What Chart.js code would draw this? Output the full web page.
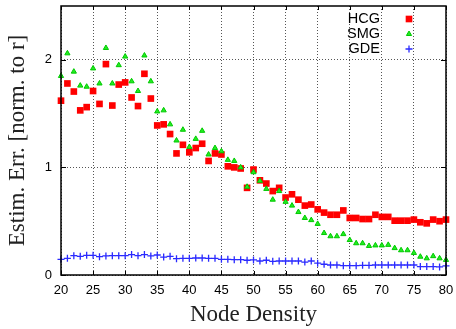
<!DOCTYPE html>
<html>
<head>
<meta charset="utf-8">
<script src="https://cdn.jsdelivr.net/npm/chart.js@4"></script>
<style>
  html, body { margin: 0; padding: 0; background: #fff; }
  #wrap { width: 456px; height: 329px; }
</style>
</head>
<body>
<div id="wrap"><canvas id="errChart"></canvas></div>
<script>
// Node density on the x axis, one point per integer value
const nodeDensity = [20, 21, 22, 23, 24, 25, 26, 27, 28, 29, 30, 31, 32, 33, 34, 35, 36, 37, 38, 39, 40,
  41, 42, 43, 44, 45, 46, 47, 48, 49, 50, 51, 52, 53, 54, 55, 56, 57, 58, 59, 60,
  61, 62, 63, 64, 65, 66, 67, 68, 69, 70, 71, 72, 73, 74, 75, 76, 77, 78, 79, 80];

// Estimation error (normalised to r)
const hcg = [1.62, 1.78, 1.705, 1.53, 1.56, 1.71, 1.59, 1.96, 1.575, 1.77, 1.79, 1.65, 1.57, 1.87, 1.64, 1.39, 1.40, 1.31, 1.13, 1.21, 1.14,
  1.18, 1.22, 1.06, 1.13, 1.12, 1.01, 1.00, 0.99, 0.81, 0.98, 0.88, 0.85, 0.78, 0.81, 0.72, 0.75, 0.70, 0.645, 0.655, 0.61,
  0.58, 0.56, 0.56, 0.60, 0.53, 0.53, 0.52, 0.52, 0.56, 0.54, 0.54, 0.505, 0.505, 0.505, 0.515, 0.49, 0.48, 0.515, 0.50, 0.515];
const smg = [1.85, 2.06, 1.89, 1.76, 1.75, 1.92, 1.78, 2.11, 1.78, 1.95, 2.03, 1.80, 1.71, 2.04, 1.80, 1.52, 1.53, 1.40, 1.25, 1.35, 1.19,
  1.265, 1.34, 1.12, 1.18, 1.15, 1.07, 1.06, 1.00, 0.82, 0.955, 0.875, 0.80, 0.70, 0.78, 0.68, 0.645, 0.585, 0.53, 0.51, 0.475,
  0.39, 0.36, 0.36, 0.38, 0.325, 0.295, 0.295, 0.27, 0.275, 0.275, 0.28, 0.25, 0.23, 0.23, 0.205, 0.17, 0.155, 0.175, 0.155, 0.14];
const gde = [0.146, 0.155, 0.18, 0.174, 0.183, 0.183, 0.17, 0.177, 0.18, 0.18, 0.18, 0.19, 0.18, 0.19, 0.177, 0.186, 0.167, 0.174, 0.152, 0.155, 0.155,
  0.158, 0.158, 0.155, 0.155, 0.146, 0.146, 0.142, 0.142, 0.137, 0.14, 0.13, 0.137, 0.127, 0.13, 0.13, 0.13, 0.13, 0.12, 0.13, 0.11,
  0.10, 0.093, 0.093, 0.087, 0.087, 0.087, 0.09, 0.09, 0.093, 0.093, 0.093, 0.093, 0.093, 0.093, 0.093, 0.078, 0.078, 0.078, 0.075, 0.084];

const xTicks = [20, 25, 30, 35, 40, 45, 50, 55, 60, 65, 70, 75, 80];
const yTicks = [0, 1, 2];

const toPoints = ys => nodeDensity.map((x, i) => ({ x: x, y: ys[i] }));

// box round the plot, gnuplot style inner tick marks, and the key in the top right
const gnuplotFrame = {
  id: "gnuplotFrame",
  afterDraw(chart) {
    const { ctx, chartArea: a, scales } = chart;
    ctx.save();
    ctx.strokeStyle = "#000";
    ctx.lineWidth = 1;
    ctx.beginPath();
    xTicks.forEach(v => {
      const px = Math.round(scales.x.getPixelForValue(v)) + 0.5;
      ctx.moveTo(px, a.bottom); ctx.lineTo(px, a.bottom - 4);
      ctx.moveTo(px, a.top); ctx.lineTo(px, a.top + 4);
    });
    yTicks.forEach(v => {
      const py = Math.round(scales.y.getPixelForValue(v)) + 0.5;
      ctx.moveTo(a.left, py); ctx.lineTo(a.left + 5, py);
      ctx.moveTo(a.right, py); ctx.lineTo(a.right - 5, py);
    });
    ctx.stroke();
    ctx.lineWidth = 1.5;
    ctx.strokeRect(a.left, a.top, a.right - a.left, a.bottom - a.top);

    // key
    ctx.font = "14.5px 'Liberation Sans', Arial, sans-serif";
    ctx.textAlign = "right";
    ctx.textBaseline = "middle";
    chart.data.datasets.forEach((ds, i) => {
      const y = a.top + 13 + i * 15;
      ctx.fillStyle = "#000";
      ctx.fillText(ds.label, a.right - 66, y);
      ctx.fillStyle = ds.backgroundColor;
      ctx.strokeStyle = ds.borderColor;
      ctx.lineWidth = ds.borderWidth;
      Chart.helpers.drawPoint(ctx, {
        pointStyle: ds.pointStyle,
        radius: ds.pointRadius,
        borderWidth: ds.borderWidth,
        rotation: 0
      }, a.right - 37, y);
    });
    ctx.restore();
  }
};

const ctx = document.getElementById("errChart").getContext("2d");

new Chart(ctx, {
  type: "scatter",
  data: {
    datasets: [
      {
        label: "HCG",
        data: toPoints(hcg),
        pointStyle: "rect",
        pointRadius: 4.7,
        backgroundColor: "#ff0000",
        borderColor: "#ff0000",
        borderWidth: 0,
        clip: false,
        order: 3
      },
      {
        label: "SMG",
        data: toPoints(smg),
        pointStyle: "triangle",
        pointRadius: 3,
        backgroundColor: "#22ee22",
        borderColor: "#00c800",
        borderWidth: 1,
        clip: false,
        order: 2
      },
      {
        label: "GDE",
        data: toPoints(gde),
        pointStyle: "cross",
        pointRadius: 3.5,
        backgroundColor: "#2a2aff",
        borderColor: "#2a2aff",
        borderWidth: 1.3,
        clip: false,
        order: 1
      }
    ]
  },
  options: {
    responsive: true,
    maintainAspectRatio: false,
    animation: false,
    layout: { autoPadding: false, padding: { left: 4, right: 10, top: 6, bottom: 0 } },
    plugins: {
      legend: { display: false },
      tooltip: { enabled: false }
    },
    scales: {
      x: {
        type: "linear",
        min: 20,
        max: 80,
        afterBuildTicks: scale => { scale.ticks = xTicks.map(v => ({ value: v })); },
        // fixed axis band so the plot box lands where gnuplot put it
        afterFit: scale => { scale.height = 54; scale.paddingLeft = 0; scale.paddingRight = 0; },
        ticks: {
          padding: 8,
          color: "#000",
          maxRotation: 0,
          font: { family: "'Liberation Sans', Arial, sans-serif", size: 13 }
        },
        grid: { color: "#555", drawTicks: false },
        border: { display: false, dash: [1, 2] },
        title: {
          display: true,
          text: "Node Density",
          color: "#222",
          padding: { top: 4, bottom: 0 },
          font: { family: "'Liberation Serif', 'Times New Roman', serif", size: 23 }
        }
      },
      y: {
        min: 0,
        max: 2.5,
        afterBuildTicks: scale => { scale.ticks = yTicks.map(v => ({ value: v })); },
        afterFit: scale => { scale.width = 57; scale.paddingTop = 0; scale.paddingBottom = 0; },
        ticks: {
          padding: 9,
          color: "#000",
          font: { family: "'Liberation Sans', Arial, sans-serif", size: 13 }
        },
        grid: { color: "#555", drawTicks: false },
        border: { display: false, dash: [1, 2] },
        title: {
          display: true,
          text: "Estim. Err. [norm. to r]",
          color: "#222",
          padding: { top: 0, bottom: 15 },
          font: { family: "'Liberation Serif', 'Times New Roman', serif", size: 23 }
        }
      }
    }
  },
  plugins: [gnuplotFrame]
});
</script>
</body>
</html>
